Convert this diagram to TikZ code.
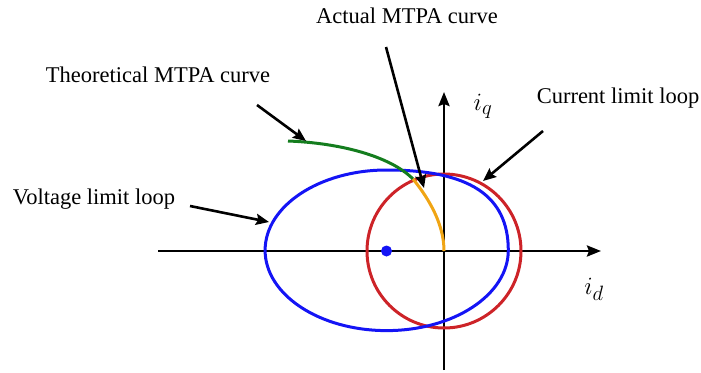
\documentclass[tikz,border=0pt]{standalone}
\usepackage{fontspec}
\setmainfont{Liberation Serif}
\usetikzlibrary{arrows.meta}
\definecolor{vblue}{RGB}{20,20,245}
\definecolor{cred}{RGB}{205,35,40}
\definecolor{tgreen}{RGB}{20,125,30}
\definecolor{aorange}{RGB}{240,165,20}
\begin{document}
\begin{tikzpicture}[x=1pt,y=-1pt,
  lbl/.style={inner sep=0pt,font=\fontsize{22.5}{26}\selectfont},
  mlbl/.style={inner sep=0pt,font=\fontsize{30}{34}\selectfont},
  axis/.style={line width=2.7pt,-{Stealth[length=14pt,width=11pt,inset=2pt]}},
  pointer/.style={line width=2.6pt,-{Stealth[length=13pt,width=11pt,inset=2pt]}},
  curve/.style={line width=3pt}]
\useasboundingbox (0,0) rectangle (701,372);
% axes
\coordinate (xs) at (158,251);
\coordinate (xe) at (601,251);
\coordinate (ys) at (444,370);
\coordinate (ye) at (444,92);
\coordinate (O) at (444,251);
\draw[axis] (xs) -- (xe);
\draw[axis] (ys) -- (ye);
% current limit circle
\draw[cred,curve] (O) circle[radius=77pt];
% voltage limit loop
\draw[vblue,curve] (265.1,250.3) .. controls (265.1,205.95) and (319.5,170) .. (386.7,170)
  .. controls (469.4,170) and (508.3,195.7) .. (508.3,250.3)
  .. controls (508.3,294.65) and (453.9,330.6) .. (386.7,330.6)
  .. controls (319.5,330.6) and (265.1,294.65) .. (265.1,250.3);
\node[circle,fill=vblue,inner sep=0pt,minimum size=11pt] (dot) at (386.5,251) {};
% MTPA curves
\coordinate (g0) at (288,141);
\coordinate (J) at (413,179);
\draw[tgreen,curve] (g0) .. controls (340,143) and (390,156) .. (J);
\draw[aorange,curve] (J) .. controls (430,200) and (444,225) .. (O);
% labels
\node[lbl] (actual) at (407,16) {Actual MTPA curve};
\node[lbl] (theo) at (158,75) {Theoretical MTPA curve};
\node[lbl] (volt) at (94,199) {Voltage limit loop};
\node[lbl] (curr) at (618,98) {Current limit loop};
\node[mlbl] (iq) at (483,106) {$i_q$};
\node[mlbl] (id) at (594,289) {$i_d$};
% pointers
\coordinate (a1) at (386,47);  \coordinate (a2) at (424,188);
\coordinate (t1) at (257,105); \coordinate (t2) at (306,141);
\coordinate (v1) at (190,206); \coordinate (v2) at (269,222);
\coordinate (c1) at (543,131); \coordinate (c2) at (483,181);
\draw[pointer] (a1) -- (a2);
\draw[pointer] (t1) -- (t2);
\draw[pointer] (v1) -- (v2);
\draw[pointer] (c1) -- (c2);
\end{tikzpicture}
\end{document}
